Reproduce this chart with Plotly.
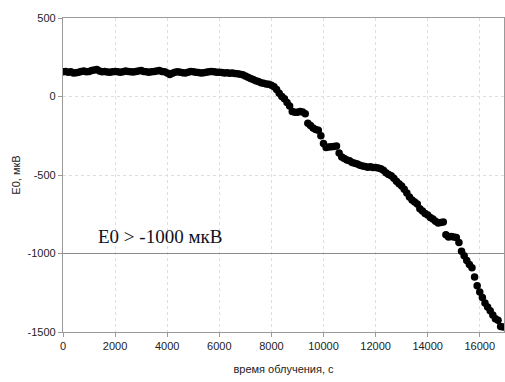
import plotly.graph_objects as go

# time, s (step 100 s)
time_s = list(range(0, 17000, 100))

e0_uV = [
    158, 160, 155, 157, 150, 152, 155, 160, 162, 158,
    160, 165, 168, 172, 163, 158, 160, 156, 155, 158,
    160, 157, 155, 158, 162, 160, 158, 156, 160, 163,
    165, 160, 158, 155, 157, 160, 162, 165, 160, 158,
    150, 140, 148, 155, 158, 155, 152, 150, 155, 160,
    158, 155, 153, 150, 152, 155, 158, 160, 157, 155,
    155, 153, 150, 152, 148, 150, 147, 145, 142, 138,
    130, 122, 115, 108, 100, 95, 88, 85, 80, 78,
    72, 62, 45, 20, 0, -15, -38, -60, -95, -100,
    -100, -95, -98, -110, -170, -185, -200, -210, -215, -250,
    -300, -325, -322, -320, -318, -315, -360, -385, -395, -405,
    -410, -420, -425, -430, -438, -442, -446, -450, -448, -452,
    -452, -455, -460, -470, -485, -497, -505, -520, -540, -555,
    -570, -590, -615, -640, -660, -672, -685, -715, -730, -745,
    -755, -770, -780, -795, -805, -803, -800, -880, -895, -892,
    -895, -898, -930, -985, -1015, -1045, -1070, -1090, -1150, -1205,
    -1245, -1280, -1315, -1340, -1365, -1392, -1415, -1425, -1465, -1468,
]

threshold = -1000
x_range = [0, 16930]
x_ticks = list(range(0, 17000, 2000))
y_ticks = [-1500, -1000, -500, 0, 500]

fig = go.Figure()
# threshold line (drawn as a trace so it sits above the dotted grid)
fig.add_trace(go.Scatter(
    x=x_range, y=[threshold, threshold], mode="lines",
    line=dict(color="#8a8a8a", width=1.2),
    showlegend=False, hoverinfo="skip", cliponaxis=False,
))
fig.add_trace(go.Scatter(
    x=time_s, y=e0_uV, mode="markers",
    marker=dict(color="black", size=7.5, line=dict(width=0)),
    showlegend=False, hoverinfo="skip",
))

fig.add_annotation(
    x=0.075, xref="paper", y=threshold, yref="y", yshift=17,
    xanchor="left", yanchor="middle", showarrow=False,
    text="E0 &gt; -1000 мкВ",
    font=dict(family="Liberation Serif, Times New Roman, serif", size=19, color="#111122"),
)

axis_common = dict(
    showline=True, linecolor="#9a9a9a", linewidth=1.2, mirror=True,
    ticks="outside", ticklen=4, tickcolor="#9a9a9a",
    gridcolor="#dedede", griddash="dot", gridwidth=1,
    zeroline=False,
    tickfont=dict(family="Liberation Sans, Arial, sans-serif", size=11, color="#222"),
)

fig.update_xaxes(
    range=x_range, tickvals=x_ticks, ticktext=[str(v) for v in x_ticks],
    title=dict(text="время облучения, с", standoff=14,
               font=dict(family="Liberation Sans, Arial, sans-serif", size=11, color="#222")),
    **axis_common,
)
fig.update_yaxes(
    range=[-1500, 500], tickvals=y_ticks, ticktext=[str(v) for v in y_ticks],
    title=dict(text="E0, мкВ", standoff=4,
               font=dict(family="Liberation Sans, Arial, sans-serif", size=11, color="#222")),
    **axis_common,
)

fig.update_layout(
    width=505, height=382,
    margin=dict(l=63, r=1, t=18, b=50),
    paper_bgcolor="white", plot_bgcolor="white",
)

fig.write_html("out.html")
